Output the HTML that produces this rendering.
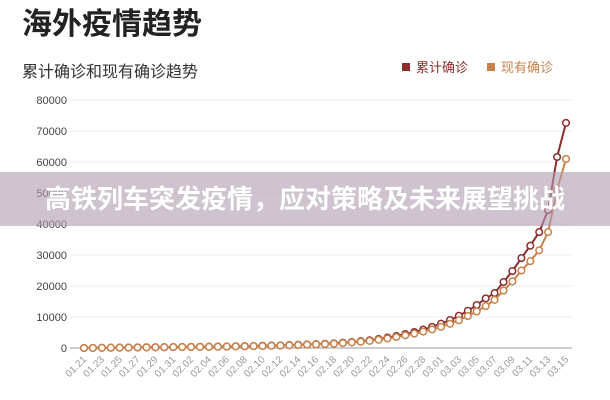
<!DOCTYPE html>
<html><head><meta charset="utf-8"><style>
body{margin:0;width:610px;height:400px;overflow:hidden;background:#fff;font-family:"Liberation Sans","Noto Sans CJK SC",sans-serif;}
#band{position:absolute;left:0;top:172px;width:610px;height:54px;background:rgba(175,155,177,0.6);}
#bt{position:absolute;left:0;top:172px;width:610px;height:54px;line-height:54px;text-align:center;color:#fff;font-weight:bold;font-size:26px;letter-spacing:0px;}
</style></head><body>
<svg id="s" width="610" height="400" style="position:absolute;left:0;top:0" font-family="Liberation Sans, Noto Sans CJK SC, sans-serif">
<text x="22" y="34" font-size="30" fill="#222" font-weight="bold">海外疫情趋势</text>
<text x="22" y="77" font-size="16" fill="#333">累计确诊和现有确诊趋势</text>
<rect x="402" y="63" width="8" height="8" fill="#8b2e2e"/>
<text x="416" y="72" font-size="13" fill="#8b2e2e">累计确诊</text>
<rect x="487" y="63" width="8" height="8" fill="#c8824a"/>
<text x="501" y="72" font-size="13" fill="#c8824a">现有确诊</text>
</svg>
<div id="band"></div><div id="bt">高铁列车突发疫情，应对策略及未来展望挑战</div>
<script>
var s=document.getElementById('s'),h='';
for(var i=0;i<=8;i++){var y=348-i*31;
h+='<line x1="70" x2="572" y1="'+y+'" y2="'+y+'" stroke="'+(i?'#eee':'#999')+'" stroke-width="1"/>';
h+='<text x="67" y="'+(y+4)+'" font-size="11" fill="#444" text-anchor="end">'+(i*10000)+'</text>';}
var labels=[];var d=new Date(2020,0,21);
for(var i=0;i<55;i++){var m=d.getMonth()+1,dd=d.getDate();labels.push((m<10?'0':'')+m+'.'+(dd<10?'0':'')+dd);d.setDate(d.getDate()+1);}
function X(i){return 84+i*482/54;}
var cum=[],cur=[];
var kc=[[0,0],[10,300],[20,700],[28,1500],[32,2500],[36,4500],[39,6800],[41,9000],[43,12000],[45,16000],[46,17700],[47,21300],[48,24800],[49,29000],[50,33000],[51,37400],[52,44500],[53,61600],[54,72600]];
var ko=[[0,0],[10,280],[20,650],[28,1400],[32,2300],[36,4100],[39,6000],[41,7800],[43,10300],[45,13500],[46,15500],[47,18500],[48,21500],[49,25000],[50,28000],[51,31500],[52,37400],[53,51000],[54,61000]];
function interp(k,i){for(var j=0;j<k.length-1;j++){if(i>=k[j][0]&&i<=k[j+1][0]){var t=(i-k[j][0])/(k[j+1][0]-k[j][0]);return k[j][1]*Math.pow(k[j+1][1]/Math.max(k[j][1],1),t)*(k[j][1]?1:0)+(k[j][1]?0:k[j+1][1]*t);}}return 0;}
for(var i=0;i<55;i++){cum.push(interp(kc,i));cur.push(interp(ko,i));}
function Y(v){return 348-v*31/10000;}
function series(a,c){var p='';for(var i=0;i<55;i++)p+=(i?'L':'M')+X(i).toFixed(1)+' '+Y(a[i]).toFixed(1);
var r='<path d="'+p+'" fill="none" stroke="'+c+'" stroke-width="2"/>';
for(var i=0;i<55;i++)r+='<circle cx="'+X(i).toFixed(1)+'" cy="'+Y(a[i]).toFixed(1)+'" r="3.3" fill="#fff" stroke="'+c+'" stroke-width="1.5"/>';return r;}
h+=series(cum,'#8b2e2e');h+=series(cur,'#c8824a');
for(var i=0;i<55;i+=2){var x=X(i)+3,y=360;h+='<text x="'+x+'" y="'+y+'" font-size="10" fill="#999" text-anchor="end" transform="rotate(-45 '+x+' '+y+')">'+labels[i]+'</text>';}
s.insertAdjacentHTML('beforeend',h);
</script>
</body></html>
